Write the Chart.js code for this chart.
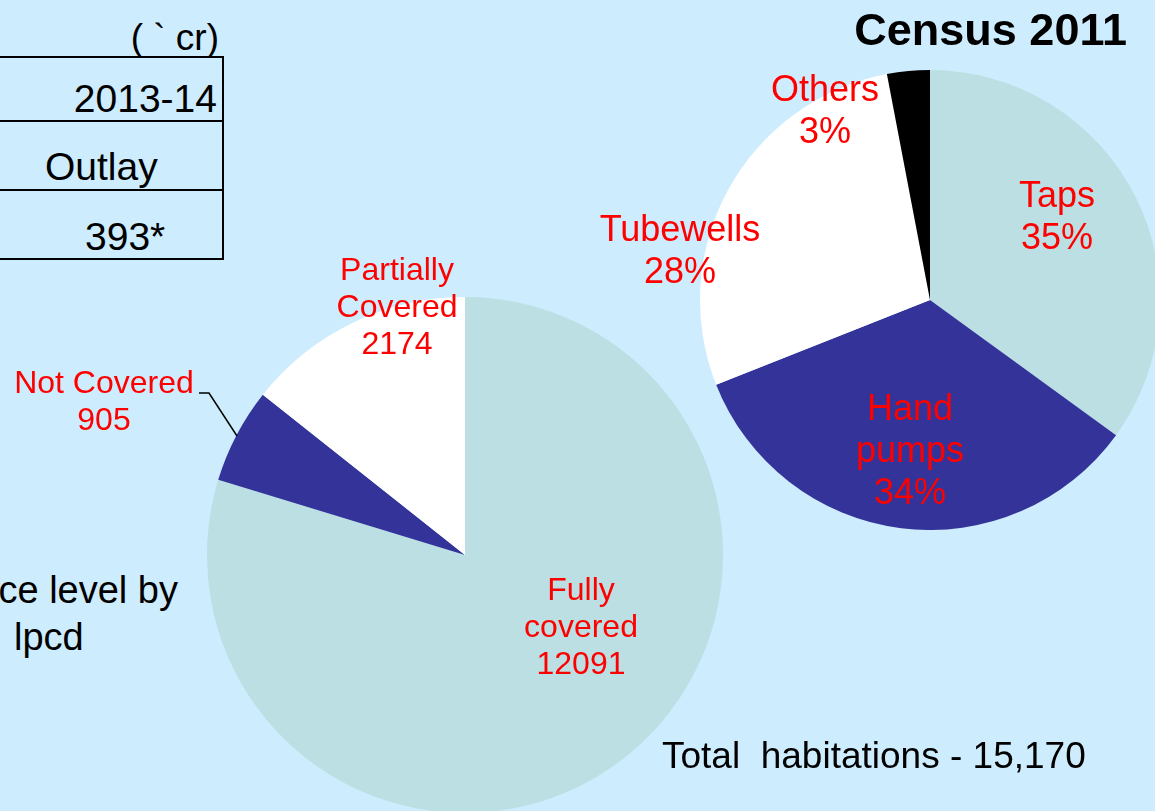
<!DOCTYPE html>
<html>
<head>
<meta charset="utf-8">
<script src="https://cdn.jsdelivr.net/npm/chart.js@4.4.0/dist/chart.umd.min.js"></script>
<style>
  body { margin: 0; width: 1155px; height: 811px; overflow: hidden; position: relative;
         background: #cdecfd; font-family: "Liberation Sans", Arial, sans-serif; }
  .abs { position: absolute; white-space: nowrap; }
  .lbl { position: absolute; color: #ff0000; text-align: center; white-space: nowrap;
         transform: translate(-50%, -50%); }
  .big { font-size: 32px; line-height: 37px; }
  .small { font-size: 36px; line-height: 42px; }
  .hl { position: absolute; left: 0; width: 224px; height: 0; border-top: 2px solid #000; }
  .txt { font-size: 37px; color: #000; transform: translateY(-50%); }
  .tbl { font-size: 39px; }
</style>
</head>
<body>

<!-- outlay table (cut off on the left) -->
<div class="hl" style="top:56px"></div>
<div class="hl" style="top:120px"></div>
<div class="hl" style="top:189px"></div>
<div class="hl" style="top:258px"></div>
<div class="abs" style="left:222px;top:56px;width:0;height:204px;border-left:2px solid #000"></div>
<div class="abs txt" style="right:936px;top:38px">( ` cr)</div>
<div class="abs txt tbl" style="right:938px;top:99px">2013-14</div>
<div class="abs txt tbl" style="left:45px;top:167px">Outlay</div>
<div class="abs txt tbl" style="left:85px;top:237px">393*</div>

<div class="abs txt" style="right:977px;top:590px;font-size:38px">ce level by</div>
<div class="abs txt" style="left:14px;top:637px;font-size:38px">lpcd</div>

<div class="abs" style="left:207px;top:297px;width:516px;height:516px">
  <canvas id="coverageChart" width="516" height="516"></canvas>
</div>
<div class="abs" style="left:700px;top:70px;width:460px;height:460px">
  <canvas id="sourceChart" width="460" height="460"></canvas>
</div>

<svg class="abs" style="left:0;top:0" width="1155" height="811">
  <polyline points="199,393 209,393 237,436" fill="none" stroke="#000" stroke-width="1.5"/>
</svg>

<div class="abs" style="right:28px;top:30px;transform:translateY(-50%);font-size:45px;font-weight:bold">Census 2011</div>
<div class="abs txt" style="left:662px;top:756px">Total&nbsp; habitations - 15,170</div>

<div id="labels"></div>

<script>
// Habitation coverage
const coverageNames = [['Fully', 'covered'], ['Not Covered'], ['Partially', 'Covered']];
const coverageValues = [12091, 905, 2174];
const coverageColors = ['#bbdfe3', '#333399', '#ffffff'];

// Sources of drinking water, Census 2011 (%)
const sourceNames = [['Taps'], ['Hand', 'pumps'], ['Tubewells'], ['Others']];
const sourceValues = [35, 34, 28, 3];
const sourceColors = ['#bbdfe3', '#333399', '#ffffff', '#000000'];

// label centres on the page
const coverageLabelPos = [[581, 626], [104, 401], [397, 306]];
const sourceLabelPos = [[1057, 216], [910, 450], [680, 250], [825, 110]];

function pie(id, values, colors) {
  return new Chart(document.getElementById(id), {
    type: 'pie',
    data: {
      labels: values.map((v, i) => i),
      datasets: [{ data: values, backgroundColor: colors, borderWidth: 0, hoverOffset: 0 }]
    },
    options: {
      responsive: false,
      animation: false,
      events: [],
      layout: { padding: 0 },
      plugins: { legend: { display: false }, tooltip: { enabled: false } }
    }
  });
}

pie('coverageChart', coverageValues, coverageColors);
pie('sourceChart', sourceValues, sourceColors);

const box = document.getElementById('labels');
function addLabels(names, values, pos, cls, fmt) {
  names.forEach((n, i) => {
    const d = document.createElement('div');
    d.className = 'lbl ' + cls;
    d.style.left = pos[i][0] + 'px';
    d.style.top = pos[i][1] + 'px';
    d.innerHTML = n.concat([fmt(values[i])]).join('<br>');
    box.appendChild(d);
  });
}
addLabels(coverageNames, coverageValues, coverageLabelPos, 'big', v => v);
addLabels(sourceNames, sourceValues, sourceLabelPos, 'small', v => v + '%');
</script>
</body>
</html>
